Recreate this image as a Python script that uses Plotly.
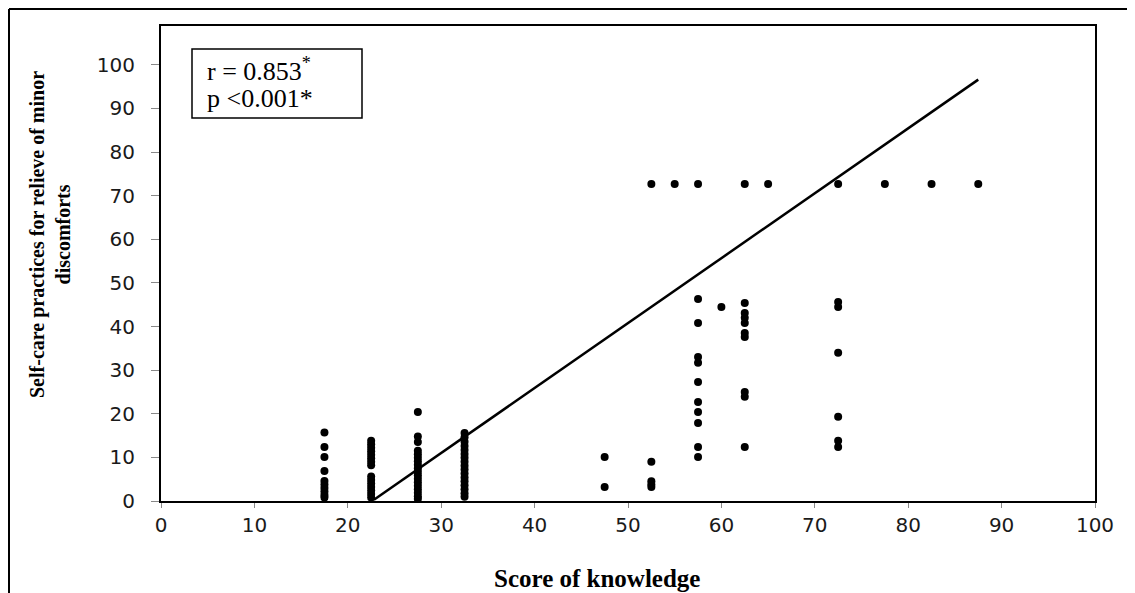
import plotly.graph_objects as go

# ---- data ----
knowledge_17_5 = [15.7, 12.4, 10.1, 6.9, 4.6, 3.8, 3.0, 2.2, 1.4, 0.8]
knowledge_22_5 = [13.8, 13.0, 12.2, 11.4, 10.6, 9.8, 9.0, 8.2, 5.6, 4.8, 4.0, 3.2, 2.4, 1.6, 0.8]
knowledge_27_5 = [20.4, 14.8, 13.5, 11.5, 10.7, 9.9, 9.1, 8.3, 7.5, 6.7, 5.9, 5.1, 4.3, 3.5, 2.7, 1.9, 1.1, 0.5]
knowledge_32_5 = [15.6, 14.6, 13.6, 12.6, 11.7, 10.8, 9.9, 9.0, 8.1, 7.2, 6.3, 5.4, 4.5, 3.6, 2.7, 1.8, 1.0]
knowledge_47_5 = [10.1, 3.2]
knowledge_52_5 = [72.7, 9.0, 4.5, 3.8, 3.2]
knowledge_55_0 = [72.7]
knowledge_57_5 = [72.7, 46.3, 40.8, 33.0, 31.7, 27.3, 22.7, 20.4, 17.9, 12.4, 10.1]
knowledge_60_0 = [44.5]
knowledge_62_5 = [72.7, 45.4, 43.1, 42.0, 40.8, 38.5, 37.6, 25.0, 23.9, 12.4]
knowledge_65_0 = [72.7]
knowledge_72_5 = [72.7, 45.6, 44.5, 34.0, 19.3, 13.8, 12.4]
knowledge_77_5 = [72.7]
knowledge_82_5 = [72.7]
knowledge_87_5 = [72.7]

score_levels = [17.5, 22.5, 27.5, 32.5, 47.5, 52.5, 55.0, 57.5, 60.0, 62.5, 65.0, 72.5, 77.5, 82.5, 87.5]
practice_groups = [knowledge_17_5, knowledge_22_5, knowledge_27_5, knowledge_32_5,
                   knowledge_47_5, knowledge_52_5, knowledge_55_0, knowledge_57_5,
                   knowledge_60_0, knowledge_62_5, knowledge_65_0, knowledge_72_5,
                   knowledge_77_5, knowledge_82_5, knowledge_87_5]

fit_x = [22.8, 87.5]
fit_y = [0.3, 96.6]

x_ticks = list(range(0, 101, 10))
y_ticks = list(range(0, 101, 10))

stat_line_r = "r = 0.853<sup>*</sup>"
stat_line_p = "p <0.001*"
x_title = "Score of knowledge"
y_title = "Self-care practices for relieve of minor<br>discomforts"

# ---- build ----
xs, ys = [], []
for sx, grp in zip(score_levels, practice_groups):
    for v in grp:
        xs.append(sx)
        ys.append(v)

fig = go.Figure()
fig.add_trace(go.Scatter(x=xs, y=ys, mode="markers",
                         marker=dict(color="black", size=8, symbol="circle"),
                         showlegend=False, hoverinfo="x+y"))
fig.add_trace(go.Scatter(x=fit_x, y=fit_y, mode="lines",
                         line=dict(color="black", width=2.5),
                         showlegend=False))

# page coordinates of the plot area (the HTML body adds an 8px offset)
OFF = 8
L, R, T, B = 161, 1095, 26, 501
W, H = 1135 - OFF, 593 - OFF
pw, ph = R - L, B - T

def px(xp):
    return (xp - L) / pw

def py(yp):
    return (B - yp) / ph

tick_font = dict(family="DejaVu Sans", size=20, color="#1a1a1a")

fig.update_layout(
    width=W, height=H,
    margin=dict(l=L - OFF, r=(W + OFF) - R, t=T - OFF, b=(H + OFF) - B, pad=0),
    paper_bgcolor="white", plot_bgcolor="white",
    xaxis=dict(range=[0, 100], tickvals=x_ticks, showgrid=False, zeroline=False,
               showline=True, linecolor="black", linewidth=2, mirror=True,
               ticks="outside", ticklen=5, tickcolor="#888", tickwidth=1,
               tickfont=tick_font, ticklabelstandoff=0),
    yaxis=dict(range=[0, 108.9], tickvals=y_ticks, showgrid=False, zeroline=False,
               showline=True, linecolor="black", linewidth=2, mirror=True,
               ticks="outside", ticklen=8, tickcolor="#888", tickwidth=1,
               tickfont=tick_font, ticklabelstandoff=12),
)

# axis titles as annotations for precise placement
fig.add_annotation(x=px(597), y=py(578), xref="paper", yref="paper",
                   xanchor="center", yanchor="middle",
                   text="<b>" + x_title + "</b>", showarrow=False,
                   font=dict(family="Liberation Serif", size=25, color="black"))
fig.add_annotation(x=px(50), y=py(235), xref="paper", yref="paper",
                   xanchor="center", yanchor="middle",
                   text="<b>" + y_title + "</b>", showarrow=False, textangle=-90,
                   font=dict(family="Liberation Serif", size=20, color="black"))

# stats box
fig.add_shape(type="rect", xref="paper", yref="paper",
              x0=px(192), x1=px(362), y0=py(118), y1=py(49),
              line=dict(color="black", width=1.5), fillcolor="white")
fig.add_annotation(x=px(205), y=py(69), xref="paper", yref="paper",
                   text=stat_line_r, showarrow=False, align="left",
                   xanchor="left", yanchor="middle",
                   font=dict(family="Liberation Serif", size=26, color="black"))
fig.add_annotation(x=px(205), y=py(99), xref="paper", yref="paper",
                   text=stat_line_p, showarrow=False, align="left",
                   xanchor="left", yanchor="middle",
                   font=dict(family="Liberation Serif", size=26, color="black"))

# outer frame (top and left edges)
fig.add_shape(type="line", xref="paper", yref="paper",
              x0=px(OFF + 1), x1=px(1135), y0=py(OFF + 1), y1=py(OFF + 1),
              line=dict(color="black", width=2))
fig.add_shape(type="line", xref="paper", yref="paper",
              x0=px(OFF + 1), x1=px(OFF + 1), y0=py(OFF + 1), y1=py(593),
              line=dict(color="black", width=2))

fig.write_html("out.html")
